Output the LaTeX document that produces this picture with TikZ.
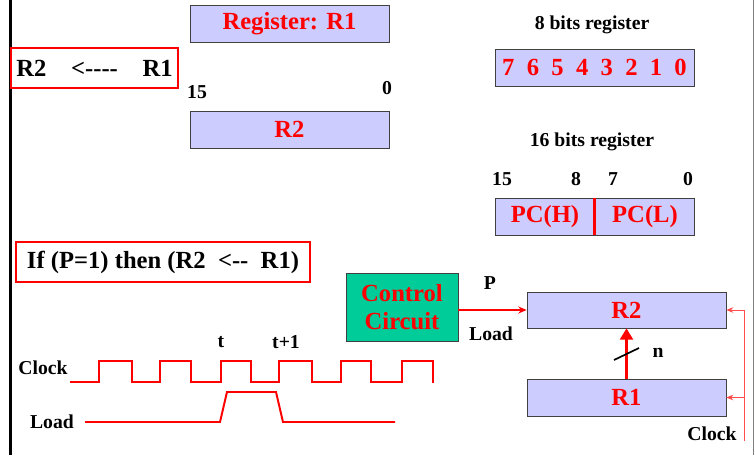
\documentclass[tikz,border=0pt]{standalone}
\usepackage{fontspec}
\setmainfont{Liberation Serif}
\usetikzlibrary{arrows.meta, positioning}

\definecolor{regfill}{RGB}{204,204,255}
\definecolor{ctrlfill}{RGB}{0,204,153}

\tikzset{
  regbox/.style={draw=black!75, fill=regfill, minimum width=4.975cm, minimum height=0.925cm,
    inner sep=0pt, text=red, font=\fontsize{17.5}{20}\selectfont\bfseries},
  rtlbox/.style={draw=red, line width=1.4pt, minimum height=1cm, inner sep=0pt,
    font=\fontsize{17.5}{20}\selectfont\bfseries},
  lbl/.style={font=\fontsize{14}{16}\selectfont\bfseries},
  wave/.style={red, line width=1.4pt, line join=miter},
  clkline/.style={red!70, line width=0.6pt},
}

\begin{document}
\begin{tikzpicture}[x=0.025cm, y=-0.025cm]
        % frame: pixel grid of the slide, y down
        \useasboundingbox (0,0) rectangle (755,455);
        \draw[line width=1.8pt] (10.5,0) -- (10.5,455);
        \draw[black!50, line width=0.6pt] (753,0) -- (753,455);

        % simple register R1 / R2
        \node[regbox] (reg1) at (289.5,23.5) {Register: R1};
        \node[rtlbox, minimum width=4.175cm] (xfer) at (94.5,68) {R2\quad<{-}{-}{-}{-}\quad R1};
        \node[lbl] (hi2) at (197,92) {15};
        \node[lbl] (lo2) at (387,88) {0};
        \node[regbox] (reg2) at (289.5,129.5) {R2};

        % 8 bits register
        \node[lbl] (cap8) at (592,25) {8 bits register};
        \node[regbox] (reg8) at (594.5,67.5) {7~~6~~5~~4~~3~~2~~1~~0};

        % 16 bits register, split in two halves
        \node[lbl] (cap16) at (592,142) {16 bits register};
        \node[lbl] (b15) at (502,179) {15};
        \node[lbl] (b8) at (576,179) {8};
        \node[lbl] (b7) at (613,179) {7};
        \node[lbl] (b0) at (688,179) {0};
        \node[regbox] (reg16) at (594.5,216.5) {};
        \draw[red, line width=1.8pt] (reg16.north) -- (reg16.south);
        \node[text=red, font=\fontsize{17.5}{20}\selectfont\bfseries] (pch) at (545,216.5) {PC(H)};
        \node[text=red, font=\fontsize{17.5}{20}\selectfont\bfseries] (pcl) at (645,216.5) {PC(L)};

        % conditional transfer
        \node[rtlbox, minimum width=7.35cm] (cond) at (163,262) {If (P=1) then (R2~~<{-}{-}~~R1)};

        \node[draw=black!75, fill=ctrlfill, minimum width=2.8cm, minimum height=1.7cm, inner sep=0pt,
              text=red, align=center, font=\fontsize{17.5}{20}\selectfont\bfseries] (ctrl) at (402,307.5) {Control\\Circuit};
        \node[regbox, minimum height=0.9cm] (r2b) at (626.5,310) {R2};
        \node[regbox] (r1b) at (626.5,397.5) {R1};

        \node[lbl] (plbl) at (490,283) {P};
        \node[lbl] (ldlbl) at (491,334) {Load};
        \draw[red, line width=1pt, -{Stealth[length=6pt,width=5pt]}] (ctrl.east |- r2b.west) -- (r2b.west);

        % n-bit data path
        \draw[red, line width=2.8pt, -{Triangle[width=9pt,length=8pt]}] (r1b.north) -- (r2b.south);
        \coordinate (sl1) at (614,360);
        \coordinate (sl2) at (639,348);
        \draw[line width=1.2pt] (sl1) -- (sl2);
        \node[lbl] (nlbl) at (658,353) {n};

        % clock lines
        \coordinate (clkin) at (744,441);
        \coordinate (clktop) at (744,310);
        \draw[clkline, -{Stealth[length=5pt,width=4pt]}] (clkin) -- (clktop) -- (r2b.east);
        \draw[clkline, -{Stealth[length=5pt,width=4pt]}] (clkin |- r1b.east) -- (r1b.east);
        \node[lbl] (clklbl) at (712,434) {Clock};

        % timing diagram
        \node[lbl] (tlbl) at (221,342) {t};
        \node[lbl] (t1lbl) at (286,342) {t+1};
        \node[lbl] (wclk) at (43,368) {Clock};
        \node[lbl] (wload) at (52,422) {Load};
        \draw[wave] (70,382) -- (99,382) -- (99,361) -- (132,361) -- (132,382)
              -- (160,382) -- (160,361) -- (191,361) -- (191,382)
              -- (221,382) -- (221,361) -- (251,361) -- (251,382)
              -- (279,382) -- (279,361) -- (312,361) -- (312,382)
              -- (341,382) -- (341,361) -- (371,361) -- (371,382)
              -- (402,382) -- (402,361) -- (433,361) -- (433,383);
        \draw[wave] (85,422) -- (220,422) -- (227,392) -- (276,392) -- (283,422) -- (395,422);
\end{tikzpicture}
\end{document}
